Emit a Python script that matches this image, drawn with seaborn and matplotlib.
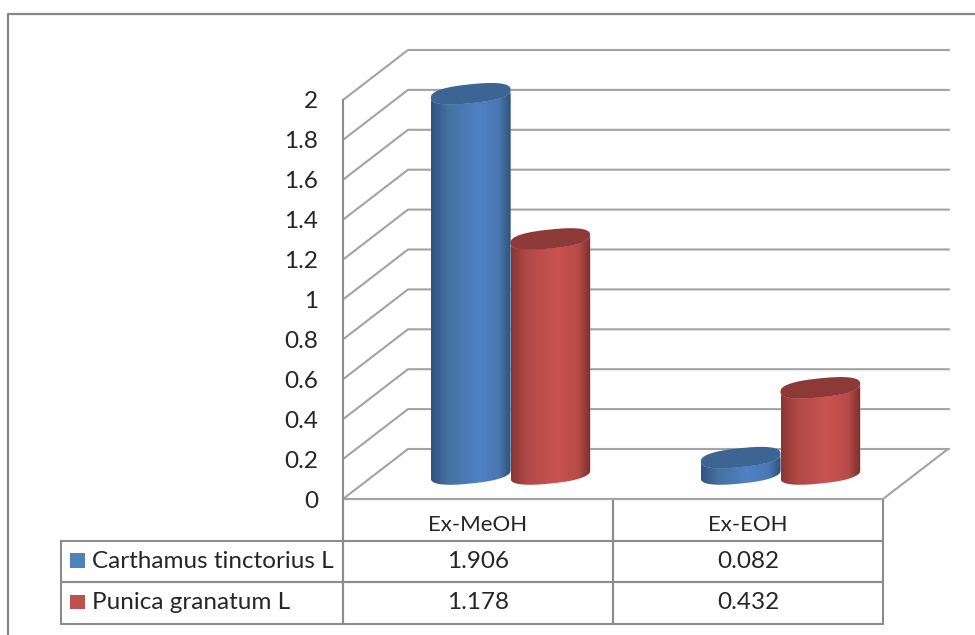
import matplotlib
matplotlib.use("Agg")
import matplotlib.pyplot as plt
import numpy as np
import pandas as pd
import seaborn as sns
from matplotlib.colors import LinearSegmentedColormap
from matplotlib.lines import Line2D
from matplotlib.patches import Polygon, Rectangle

extracts = ["Ex-MeOH", "Ex-EOH"]
species = ["Carthamus tinctorius L", "Punica granatum L"]
carthamus = [1.906, 0.082]
punica = [1.178, 0.432]
y_ticks = [0, 0.2, 0.4, 0.6, 0.8, 1, 1.2, 1.4, 1.6, 1.8, 2]
y_labels = ["0", "0.2", "0.4", "0.6", "0.8", "1", "1.2", "1.4", "1.6", "1.8", "2"]

W, H = 975, 635
GRID = "#a3a3a3"
EDGE = "#8c8c8c"
TEXT = "#262626"
COLORS = ["#4f81bd", "#c0504d"]
SIDES = [["#2f5280", "#44719f", "#4f82c4", "#4a78b2", "#2f5278"],
         ["#8c3533", "#b04a47", "#cb5350", "#b54b48", "#7a2e2c"]]
TOPS = ["#3c6594", "#8c3937"]

sns.set_theme(style="white")
plt.rcParams["font.family"] = ["Lato", "DejaVu Sans"]


def px_axes(fig, left, top, right, bottom):
    return fig.add_axes([left / W, 1 - bottom / H, (right - left) / W, (bottom - top) / H])


def arc(cx, cy, a, b, tilt, start, stop):
    # slightly squared ellipse, sheared so that the right side sits higher
    t = np.linspace(start, stop, 80)
    c = np.sign(np.cos(t)) * np.abs(np.cos(t)) ** 0.8
    s = np.sign(np.sin(t)) * np.abs(np.sin(t)) ** 0.8
    return np.column_stack([cx + a * c, cy + b * s + tilt * c])


fig = plt.figure(figsize=(W / 100, H / 100), dpi=100)
fig.add_artist(Line2D([8 / W, 8 / W, 1], [0, 1 - 13.5 / H, 1 - 13.5 / H], color="#868686", lw=1.6))

# front plane: value axis, walls and the data table
front = px_axes(fig, 343, 100, 883, 499)
front.set_xlim(-0.5, 1.5)
front.set_ylim(0, 2)
front.set_yticks(y_ticks, y_labels)
front.set_xticks([])
front.tick_params(axis="y", length=0, pad=18, labelsize=17.5, labelcolor=TEXT)
for name, spine in front.spines.items():
    spine.set_visible(name == "left")
    spine.set_color(EDGE)
    spine.set_linewidth(1.5)
front.patch.set_alpha(0)

dx, dz = 65 / 270, 50 / 199.5
for v in y_ticks:
    front.plot([-0.5, -0.5 + dx, 1.5 + dx + 0.004], [v, v + dz, v + dz], color=GRID, lw=1.5,
               clip_on=False, zorder=1)
front.plot([-0.5, 1.5, 1.5 + dx], [0, 0, dz], color=GRID, lw=1.5, clip_on=False, zorder=1)

rows = [[species[0]] + [f"{v:g}" for v in carthamus], [species[1]] + [f"{v:g}" for v in punica]]
table = front.table(
    cellText=[["", "", ""]] + rows,
    colWidths=[282, 270, 270],
    bbox=[-282 / 540, -124.5 / 399, 822 / 540, 124.5 / 399],
    cellLoc="center",
    edges="closed",
)
table.auto_set_font_size(False)
row_heights = [42, 40.5, 42]
for (r, c), cell in table.get_celld().items():
    cell.set_height(row_heights[r])
    cell.set_edgecolor(EDGE)
    cell.set_linewidth(1.5)
    cell.set_facecolor("none")
    cell.get_text().set_fontsize(17.5)
    cell.get_text().set_color(TEXT)
    if c == 0:
        cell.PAD = 0.111
        cell.set_text_props(ha="left")
        cell._loc = "left"
table[0, 0].visible_edges = "R"

# header labels sit low in their row
for i, name in enumerate(extracts):
    front.text(i, -26 / 199.5, name, ha="center", va="center", fontsize=16, color=TEXT)

for color, key_top in zip(COLORS, [553, 594.5]):
    fig.add_artist(Rectangle((70 / W, 1 - (key_top + 14.5) / H), 15 / W, 14.5 / H, color=color, lw=0))

# bars stand half way between the front and back planes
ax = px_axes(fig, 375.5, 55.05, 915.5, 493.95)
df = pd.DataFrame({
    "extract": extracts * 2,
    "species": [species[0]] * 2 + [species[1]] * 2,
    "value": carthamus + punica,
})
sns.barplot(data=df, x="extract", y="value", hue="species", palette=COLORS, saturation=1,
            width=0.59, legend=False, ax=ax)

rx_b, rx_tilt = 9.5 / 199.5, 4 / 199.5
z = 3
for i, container in enumerate(ax.containers):
    cmap = LinearSegmentedColormap.from_list("side", list(zip([0, 0.2, 0.58, 0.85, 1], SIDES[i])))
    for bar in container:
        x0, w, h = bar.get_x(), bar.get_width(), bar.get_height()
        cx, a = x0 + w / 2, w / 2
        body = np.vstack([arc(cx, 0, a, rx_b, rx_tilt, np.pi, 2 * np.pi),
                          arc(cx, h, a, rx_b, rx_tilt, 2 * np.pi, np.pi)])
        outline = Polygon(body, transform=ax.transData)
        bar.set_clip_path(outline)
        bar.set_zorder(z)
        shade = ax.imshow(np.linspace(0, 1, 128)[None, :], cmap=cmap, aspect="auto", zorder=z + 1,
                          extent=[x0, x0 + w, -0.1, h + 0.1])
        shade.set_clip_path(outline)
        ax.add_patch(Polygon(arc(cx, h, a, rx_b, rx_tilt, 0, 2 * np.pi), color=TOPS[i], lw=0,
                             zorder=z + 2))
        z += 3

ax.set_xlim(-0.5, 1.5)
ax.set_ylim(-0.1, 2.1)
ax.axis("off")

fig.savefig("out.png", dpi=100)
